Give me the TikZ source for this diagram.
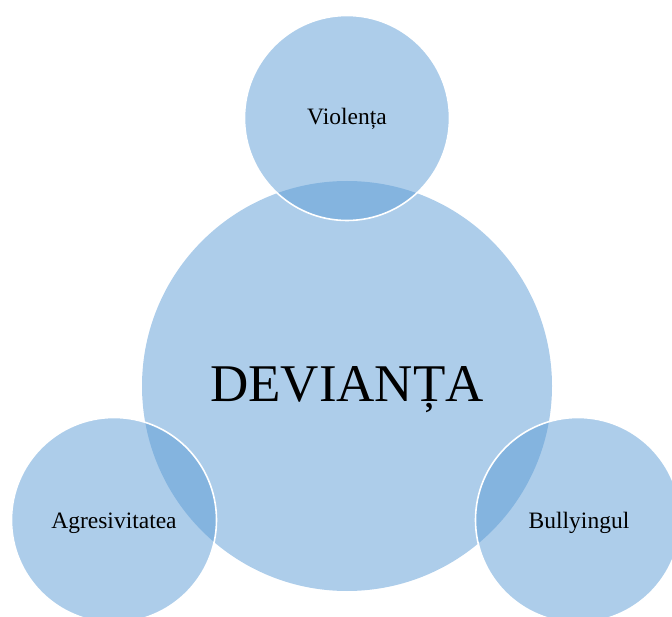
\documentclass[tikz,border=0pt]{standalone}
\usepackage{fontspec}
\setmainfont{Liberation Serif}
\definecolor{bubble}{HTML}{5B9BD5}
\begin{document}
\begin{tikzpicture}[x=1pt,y=-1pt,
  bubble/.style={circle,inner sep=0pt,fill=bubble,fill opacity=0.5,draw opacity=1},
  small/.style={bubble,minimum size=205pt,draw=white,line width=1.6pt},
  big/.style={bubble,minimum size=410pt},
  txt/.style={anchor=base,inner sep=0pt,text=black,font=\fontsize{23.5}{28}\selectfont},
  bigtxt/.style={anchor=base,inner sep=0pt,text=black,font=\fontsize{53}{60}\selectfont}]
  \useasboundingbox (0,0) rectangle (672,617);
  \clip (0,0) rectangle (672,617);
  % central circle
  \node[big] (dev) at (347,386) {};
  % satellite circles
  \node[small] (vio) at (347,118) {};
  \node[small] (agr) at (114,520) {};
  \node[small] (bul) at (578,520) {};
  % labels
  \node[bigtxt] (devt) at (347,402) {DEVIANȚA};
  \node[txt] (viot) at (347,125) {Violența};
  \node[txt] (agrt) at (114,528) {Agresivitatea};
  \node[txt] (bult) at (579,528) {Bullyingul};
\end{tikzpicture}
\end{document}
